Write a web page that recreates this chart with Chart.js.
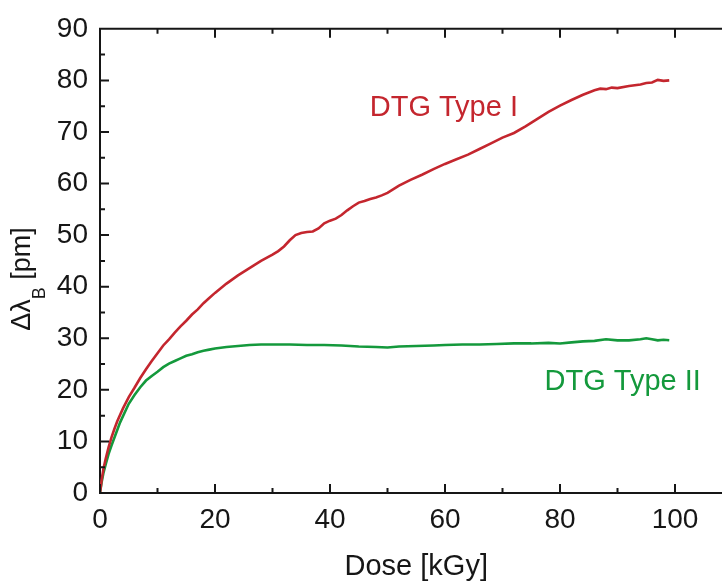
<!DOCTYPE html>
<html lang="en">
<head>
<meta charset="UTF-8">
<title>DTG Bragg shift vs dose</title>
<script src="https://cdn.jsdelivr.net/npm/chart.js"></script>
<style>
  html, body { margin: 0; padding: 0; background: #fff; overflow: hidden; }
  #wrap { position: relative; width: 745px; height: 585px; }
</style>
</head>
<body>
<div id="wrap"><canvas id="doseChart"></canvas></div>
<script>
// dose in kGy, Bragg wavelength shift in pm
const doseTypeI = [0, 0.3, 0.6, 1, 1.5, 2, 2.5, 3, 4, 5, 6, 7, 8, 9, 10, 11, 12, 13, 14, 15,
  16, 17, 18, 19, 20, 22, 24, 26, 28, 30, 31, 32, 33, 34, 35, 36, 37, 38, 39, 40, 41,
  42, 43, 44, 45, 46, 47, 48, 49, 50, 52, 54, 56, 58, 60, 62, 64, 66, 68, 70, 72,
  74, 76, 78, 80, 82, 84, 86, 87, 88, 89, 90, 92, 94, 95, 96, 97, 98, 99];
const shiftTypeI = [0, 2.6, 4.7, 6.7, 8.9, 10.8, 12.4, 13.9, 16.4, 18.6, 20.4, 22.3, 24.0, 25.6, 27.1, 28.6, 29.8, 31.1, 32.3, 33.4,
  34.6, 35.6, 36.8, 37.8, 38.8, 40.6, 42.2, 43.6, 45.0, 46.2, 46.9, 47.8, 49.0, 50.0, 50.4, 50.6, 50.7, 51.3, 52.3, 52.8, 53.2,
  53.9, 54.8, 55.6, 56.3, 56.6, 57.0, 57.3, 57.7, 58.2, 59.6, 60.7, 61.7, 62.8, 63.8, 64.7, 65.6, 66.7, 67.8, 68.9, 69.8,
  71.1, 72.5, 73.9, 75.1, 76.2, 77.2, 78.1, 78.4, 78.3, 78.6, 78.5, 78.9, 79.2, 79.5, 79.6, 80.1, 79.9, 80.0];

const doseTypeII = [0, 0.3, 0.6, 1, 1.5, 2, 2.5, 3, 3.5, 4, 5, 6, 7, 8, 9, 10, 11, 12, 13, 14,
  15, 16, 17, 18, 19, 20, 22, 24, 26, 28, 30, 33, 36, 39, 42, 45, 48, 50, 52, 55,
  58, 60, 63, 66, 69, 72, 75, 78, 80, 82, 84, 86, 88, 90, 92, 94, 95, 96, 97, 98, 99];
const shiftTypeII = [0, 2.2, 3.9, 5.6, 7.6, 9.2, 10.7, 12.2, 13.7, 14.9, 17.3, 19.0, 20.5, 21.8, 22.7, 23.5, 24.4, 25.1, 25.6, 26.1,
  26.6, 26.9, 27.3, 27.6, 27.8, 28.0, 28.3, 28.5, 28.7, 28.8, 28.8, 28.8, 28.7, 28.7, 28.6, 28.4, 28.3, 28.2, 28.4, 28.5,
  28.6, 28.7, 28.8, 28.8, 28.9, 29.0, 29.0, 29.1, 29.0, 29.2, 29.4, 29.5, 29.8, 29.6, 29.6, 29.8, 30.0, 29.8, 29.6, 29.7, 29.6];

const doseTicks = [0, 20, 40, 60, 80, 100];
const shiftTicks = [0, 10, 20, 30, 40, 50, 60, 70, 80, 90];

const RED = '#c4262e';
const GREEN = '#14993c';
const INK = '#161616';
const FONT = "'Liberation Sans', Arial, Helvetica, sans-serif";

// curve labels, placed in data units
const curveLabels = [
  { text: 'DTG Type I', x: 59.8, y: 74.6, color: RED },
  { text: 'DTG Type II', x: 90.9, y: 21.5, color: GREEN }
];

// ticks pointing into the plot, plus the top frame line
const frameTicks = {
  id: 'frameTicks',
  afterDraw(chart) {
    const { ctx, chartArea: a, scales: { x, y } } = chart;
    ctx.save();
    ctx.strokeStyle = INK;
    ctx.lineWidth = 2;
    ctx.beginPath();
    ctx.moveTo(a.left - 1, a.top);
    ctx.lineTo(a.right, a.top);

    const xs = x.ticks.map(t => t.value);
    const xHalf = (xs[1] - xs[0]) / 2;
    xs.forEach(v => {
      const px = x.getPixelForValue(v);
      ctx.moveTo(px, a.bottom); ctx.lineTo(px, a.bottom - 9);
      ctx.moveTo(px, a.top); ctx.lineTo(px, a.top + 9);
      if (v + xHalf <= x.max) {
        const pm = x.getPixelForValue(v + xHalf);
        ctx.moveTo(pm, a.bottom); ctx.lineTo(pm, a.bottom - 5);
        ctx.moveTo(pm, a.top); ctx.lineTo(pm, a.top + 5);
      }
    });

    const ys = y.ticks.map(t => t.value);
    const yHalf = (ys[1] - ys[0]) / 2;
    ys.forEach(v => {
      const py = y.getPixelForValue(v);
      ctx.moveTo(a.left, py); ctx.lineTo(a.left + 9, py);
      if (v + yHalf <= y.max) {
        const pm = y.getPixelForValue(v + yHalf);
        ctx.moveTo(a.left, pm); ctx.lineTo(a.left + 5, pm);
      }
    });
    ctx.stroke();
    ctx.restore();
  }
};

// curve names and the rotated y title with its subscript
const chartText = {
  id: 'chartText',
  afterDraw(chart) {
    const { ctx, scales: { x, y } } = chart;
    ctx.save();
    ctx.textAlign = 'center';
    ctx.textBaseline = 'middle';
    ctx.font = `29px ${FONT}`;
    curveLabels.forEach(l => {
      ctx.fillStyle = l.color;
      ctx.fillText(l.text, x.getPixelForValue(l.x), y.getPixelForValue(l.y));
    });

    const main = `27px ${FONT}`;
    const sub = `18px ${FONT}`;
    ctx.font = main;
    const wHead = ctx.measureText('\u0394\u03bb').width;
    const wTail = ctx.measureText(' [pm]').width;
    ctx.font = sub;
    const wSub = ctx.measureText('B').width;
    const total = wHead + wSub + wTail;

    ctx.translate(30, 279);
    ctx.rotate(-Math.PI / 2);
    ctx.fillStyle = INK;
    ctx.textAlign = 'left';
    ctx.textBaseline = 'alphabetic';
    let cx = -total / 2;
    ctx.font = main;
    ctx.fillText('\u0394\u03bb', cx, 0);
    cx += wHead;
    ctx.font = sub;
    ctx.fillText('B', cx, 15);
    cx += wSub;
    ctx.font = main;
    ctx.fillText(' [pm]', cx, 0);
    ctx.restore();
  }
};

new Chart(document.getElementById('doseChart'), {
  type: 'line',
  data: {
    datasets: [
      {
        label: 'DTG Type I',
        data: doseTypeI.map((d, i) => ({ x: d, y: shiftTypeI[i] })),
        borderColor: RED,
        borderWidth: 2.6,
        pointRadius: 0,
        tension: 0,
        fill: false
      },
      {
        label: 'DTG Type II',
        data: doseTypeII.map((d, i) => ({ x: d, y: shiftTypeII[i] })),
        borderColor: GREEN,
        borderWidth: 2.6,
        pointRadius: 0,
        tension: 0,
        fill: false
      }
    ]
  },
  options: {
    responsive: true,
    maintainAspectRatio: false,
    animation: false,
    layout: { padding: { top: 24, right: 12.5, left: 0, bottom: 0 } },
    plugins: {
      legend: { display: false },
      tooltip: { enabled: false }
    },
    scales: {
      x: {
        type: 'linear',
        min: 0,
        max: 110,
        afterBuildTicks: s => { s.ticks = doseTicks.map(v => ({ value: v })); },
        afterFit: s => { s.height = 92; },
        ticks: { font: { family: FONT, size: 28 }, color: INK, padding: 10, maxRotation: 0 },
        grid: { display: false, drawTicks: false },
        border: { display: true, color: INK, width: 2 },
        title: {
          display: true,
          text: 'Dose [kGy]',
          font: { family: FONT, size: 29 },
          color: INK,
          padding: { top: 0, bottom: 1 }
        }
      },
      y: {
        type: 'linear',
        min: 0,
        max: 90,
        afterBuildTicks: s => { s.ticks = shiftTicks.map(v => ({ value: v })); },
        afterFit: s => { s.width = 100; },
        ticks: { font: { family: FONT, size: 28 }, color: INK, padding: 12 },
        grid: { display: false, drawTicks: false },
        border: { display: true, color: INK, width: 2 }
      }
    }
  },
  plugins: [frameTicks, chartText]
});
</script>
</body>
</html>
